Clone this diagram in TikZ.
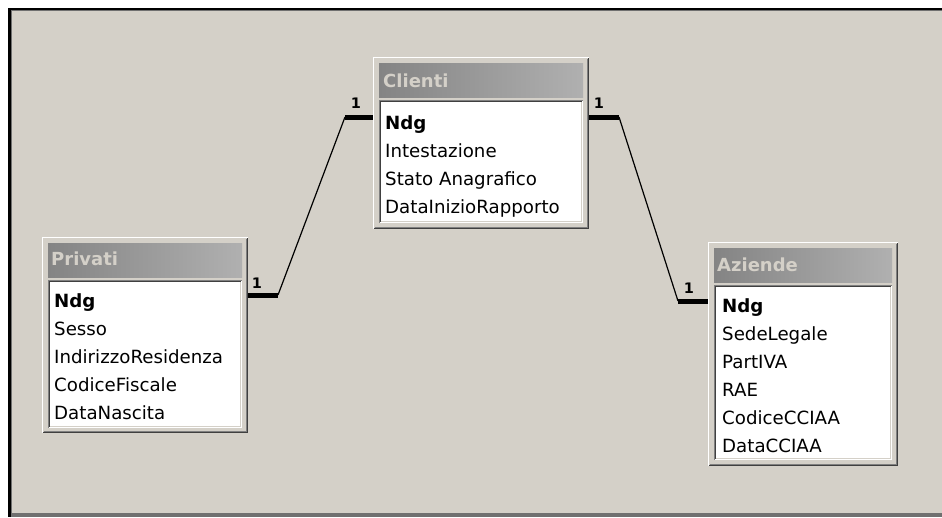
\documentclass[tikz,border=0pt]{standalone}
\usepackage{fontspec}
\setmainfont{DejaVu Sans}
\usetikzlibrary{calc}

\definecolor{face}{HTML}{D4D0C8}
\definecolor{shadow}{HTML}{808080}
\definecolor{darkshadow}{HTML}{404040}
\definecolor{rim}{HTML}{707070}
\definecolor{captionL}{HTML}{848484}
\definecolor{captionR}{HTML}{B0B0B0}

\tikzset{
  win/.style={fill=face, anchor=north west, inner sep=0pt, outer sep=0pt},
  titlebar/.style={left color=captionL, right color=captionR, anchor=north west,
                   inner sep=0pt, outer sep=0pt, minimum height=34pt},
  listbox/.style={fill=white, anchor=north west, inner sep=0pt, outer sep=0pt},
  titletext/.style={anchor=base west, inner sep=0pt, text=face,
                    font=\fontsize{18pt}{20pt}\selectfont\bfseries},
  field/.style={anchor=base west, inner sep=0pt,
                font=\fontsize{18.2pt}{20pt}\selectfont},
  keyfield/.style={field, font=\fontsize{18.2pt}{20pt}\selectfont\bfseries},
  relend/.style={line width=5pt, line cap=butt},
  relline/.style={line width=1.2pt},
  card/.style={inner sep=0pt, font=\fontsize{14.5pt}{15pt}\selectfont\bfseries},
}

% 3-D edge of a node: #1 node, #2 top/left colour, #3 bottom/right colour, #4 inset
\newcommand\bevel[4]{%
  \draw[#2, line width=1pt] ([xshift=#4+0.5pt,yshift=#4+0.5pt]#1.south west)
      |- ([xshift=-#4-0.5pt,yshift=-#4-0.5pt]#1.north east);
  \draw[#3, line width=1pt] ([xshift=#4+0.5pt,yshift=#4+0.5pt]#1.south west)
      -| ([xshift=-#4-0.5pt,yshift=-#4-0.5pt]#1.north east);
}
\newcommand\raisedwin[1]{\bevel{#1}{white}{darkshadow}{0pt}\bevel{#1}{face}{shadow}{1pt}}
\newcommand\sunkenbox[1]{\bevel{#1}{shadow}{white}{0pt}\bevel{#1}{darkshadow}{face}{1pt}}

\begin{document}
\begin{tikzpicture}[x=1pt, y=-1pt]
\useasboundingbox (0,0) rectangle (942,517);

% workspace with its sunken frame
\fill[face] (8,8) rectangle (942,517);
\fill[black] (8,8) rectangle (942,9.5);
\fill[black] (8,8) rectangle (10.5,517);
\fill[rim] (10.5,9.5) rectangle (942,11);
\fill[rim] (10.5,9.5) rectangle (12,513);
\fill[rim] (10.5,513) rectangle (942,517);

% ---------- Clienti ----------
\node[win, minimum width=216pt, minimum height=172pt] (clienti) at (373,57) {};
\raisedwin{clienti}
\node[titlebar, minimum width=204pt] (clienti-cap) at ($(clienti.north west)+(6,6)$) {};
\node[titletext] at ($(clienti-cap.north west)+(4,24)$) {Clienti};
\node[listbox, minimum width=204pt, minimum height=123pt] (clienti-list)
     at ($(clienti-cap.south west)+(0,3)$) {};
\sunkenbox{clienti-list}
\node[keyfield] at ($(clienti-list.north west)+(6,29)$) {Ndg};
\node[field] at ($(clienti-list.north west)+(6,57)$) {Intestazione};
\node[field] at ($(clienti-list.north west)+(6,85)$) {Stato Anagrafico};
\node[field] at ($(clienti-list.north west)+(6,113)$) {DataInizioRapporto};

% ---------- Privati ----------
\node[win, minimum width=206pt, minimum height=196pt] (privati) at (42,237) {};
\raisedwin{privati}
\node[titlebar, minimum width=194pt] (privati-cap) at ($(privati.north west)+(6,6)$) {};
\node[titletext] at ($(privati-cap.north west)+(3,22)$) {Privati};
\node[listbox, minimum width=194pt, minimum height=148pt] (privati-list)
     at ($(privati-cap.south west)+(0,3)$) {};
\sunkenbox{privati-list}
\node[keyfield] at ($(privati-list.north west)+(6,27)$) {Ndg};
\node[field] at ($(privati-list.north west)+(6,55)$) {Sesso};
\node[field] at ($(privati-list.north west)+(6,83)$) {IndirizzoResidenza};
\node[field] at ($(privati-list.north west)+(6,111)$) {CodiceFiscale};
\node[field] at ($(privati-list.north west)+(6,139)$) {DataNascita};

% ---------- Aziende ----------
\node[win, minimum width=190pt, minimum height=224pt] (aziende) at (708,242) {};
\raisedwin{aziende}
\node[titlebar, minimum width=178pt] (aziende-cap) at ($(aziende.north west)+(6,6)$) {};
\node[titletext] at ($(aziende-cap.north west)+(3,23)$) {Aziende};
\node[listbox, minimum width=178pt, minimum height=175pt] (aziende-list)
     at ($(aziende-cap.south west)+(0,3)$) {};
\sunkenbox{aziende-list}
\node[keyfield] at ($(aziende-list.north west)+(8,27)$) {Ndg};
\node[field] at ($(aziende-list.north west)+(8,55)$) {SedeLegale};
\node[field] at ($(aziende-list.north west)+(8,83)$) {PartIVA};
\node[field] at ($(aziende-list.north west)+(8,111)$) {RAE};
\node[field] at ($(aziende-list.north west)+(8,139)$) {CodiceCCIAA};
\node[field] at ($(aziende-list.north west)+(8,167)$) {DataCCIAA};

% ---------- relationships (1 : 1) ----------
\coordinate (pv-r) at ($(privati.north east)+(30,58)$);
\coordinate (cl-l) at ($(clienti.north west)+(-28,60)$);
\coordinate (cl-r) at ($(clienti.north east)+(30,60)$);
\coordinate (az-l) at ($(aziende.north west)+(-30,59)$);

\draw[relend] (privati.east |- pv-r) -- (pv-r);
\draw[relline] (pv-r) -- (cl-l);
\draw[relend] (cl-l) -- (cl-l -| clienti.west);

\draw[relend] (clienti.east |- cl-r) -- (cl-r);
\draw[relline] (cl-r) -- (az-l);
\draw[relend] (az-l) -- (az-l -| aziende.west);

\node[card] at ($(pv-r)+(-21,-12)$) {1};
\node[card] at ($(cl-l)+(11,-14)$) {1};
\node[card] at ($(cl-r)+(-20,-14)$) {1};
\node[card] at ($(az-l)+(11,-13)$) {1};
\end{tikzpicture}
\end{document}
